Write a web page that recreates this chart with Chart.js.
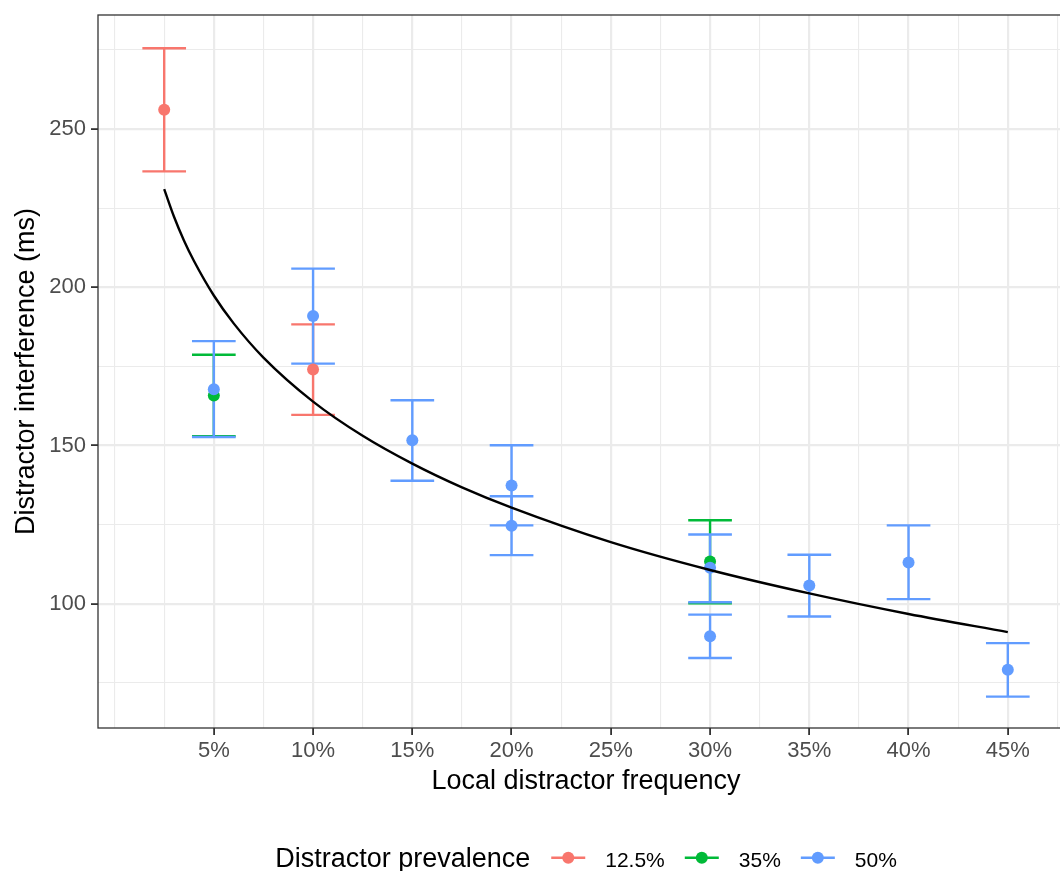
<!DOCTYPE html>
<html>
<head>
<meta charset="utf-8">
<title>Distractor interference</title>
<script src="https://cdn.jsdelivr.net/npm/chart.js@4/dist/chart.umd.min.js"></script>
<style>
  html, body { margin: 0; padding: 0; background: #fff; overflow: hidden; }
  #chart { display: block; }
</style>
</head>
<body>
<canvas id="chart" width="1088" height="871"></canvas>
<script>
// Group means with error bars, by distractor prevalence
const xRed = [2.5, 10];
const meanRed = [256.1, 174.0];
const lowRed = [236.6, 159.7];
const highRed = [275.5, 188.3];

const xGreen = [5, 30];
const meanGreen = [165.8, 113.4];
const lowGreen = [153.0, 100.2];
const highGreen = [178.7, 126.4];

const xBlue = [5, 10, 15, 20, 20, 30, 30, 35, 40, 45];
const meanBlue = [167.8, 190.9, 151.7, 137.4, 124.7, 111.4, 89.8, 105.8, 113.1, 79.2];
const lowBlue = [152.7, 175.9, 138.9, 124.8, 115.4, 100.5, 82.9, 96.0, 101.5, 70.7];
const highBlue = [183.0, 205.9, 164.3, 150.1, 134.0, 121.9, 96.6, 115.5, 124.8, 87.6];

// Fitted curve
const fitX = [2.5, 3, 3.5, 4, 5, 6, 7.5, 10, 12.5, 15, 17.5, 20, 25, 30, 35, 40, 45];
const fitY = [231, 222.2, 214.7, 208.3, 197.4, 188.6, 177.8, 163.9, 153.1, 144.3, 136.8, 130.4, 119.5, 110.7, 103.3, 96.8, 91.1];

// Axis breaks
const xMajor = [5, 10, 15, 20, 25, 30, 35, 40, 45];
const xMinor = [0, 2.5, 7.5, 12.5, 17.5, 22.5, 27.5, 32.5, 37.5, 42.5, 47.5];
const yMajor = [100, 150, 200, 250];
const yMinor = [75, 125, 175, 225, 275];

const legendLabels = ['12.5%', '35%', '50%'];

const RED = '#F8766D', GREEN = '#00BA38', BLUE = '#619CFF';
const FONT = '"Liberation Sans", Arial, Helvetica, sans-serif';
const CAP_HALF = 1.1; // half cap width, x units
const POINT_R = 6;

const pts = (xs, ys) => xs.map((x, i) => ({ x, y: ys[i] }));

const errorSets = [
  { x: xRed, low: lowRed, high: highRed, color: RED },
  { x: xGreen, low: lowGreen, high: highGreen, color: GREEN },
  { x: xBlue, low: lowBlue, high: highBlue, color: BLUE }
];

const isMajor = (list, v) => list.some(m => Math.abs(m - v) < 1e-6);

const errorBars = {
  id: 'errorBars',
  beforeDatasetsDraw(chart) {
    const { ctx, scales: { x, y } } = chart;
    ctx.save();
    ctx.lineWidth = 2.4;
    errorSets.forEach(set => {
      ctx.strokeStyle = set.color;
      set.x.forEach((xv, i) => {
        const px = x.getPixelForValue(xv);
        const x0 = x.getPixelForValue(xv - CAP_HALF);
        const x1 = x.getPixelForValue(xv + CAP_HALF);
        const yl = y.getPixelForValue(set.low[i]);
        const yh = y.getPixelForValue(set.high[i]);
        ctx.beginPath();
        ctx.moveTo(px, yl); ctx.lineTo(px, yh);
        ctx.moveTo(x0, yl); ctx.lineTo(x1, yl);
        ctx.moveTo(x0, yh); ctx.lineTo(x1, yh);
        ctx.stroke();
      });
    });
    ctx.restore();
  }
};

const frame = {
  id: 'frame',
  beforeDraw(chart) {
    const { ctx, width, height } = chart;
    ctx.save();
    ctx.fillStyle = '#fff';
    ctx.fillRect(0, 0, width, height);
    ctx.restore();
  },
  afterDraw(chart) {
    const { ctx, chartArea: a } = chart;
    ctx.save();
    ctx.strokeStyle = '#333333';
    ctx.lineWidth = 1.3;
    ctx.strokeRect(a.left, a.top, a.right - a.left, a.bottom - a.top);

    // legend row under the plot
    const colors = [RED, GREEN, BLUE];
    ctx.textBaseline = 'alphabetic';
    ctx.font = '27px ' + FONT;
    const title = 'Distractor prevalence';
    const titleW = ctx.measureText(title).width;
    ctx.font = '21px ' + FONT;
    const labelW = legendLabels.map(t => ctx.measureText(t).width);
    const total = titleW + 21 + labelW.reduce((s, w) => s + 34 + 20 + w, 0) + 20 * (legendLabels.length - 1);
    let lx = (a.left + a.right) / 2 - total / 2;
    const base = 866.5, mid = 857.7;
    ctx.fillStyle = '#000';
    ctx.font = '27px ' + FONT;
    ctx.fillText(title, lx, base);
    lx += titleW + 21;
    ctx.font = '21px ' + FONT;
    legendLabels.forEach((t, i) => {
      ctx.strokeStyle = colors[i];
      ctx.fillStyle = colors[i];
      ctx.lineWidth = 2.4;
      ctx.beginPath();
      ctx.moveTo(lx, mid); ctx.lineTo(lx + 34, mid);
      ctx.stroke();
      ctx.beginPath();
      ctx.arc(lx + 17, mid, POINT_R, 0, Math.PI * 2);
      ctx.fill();
      lx += 34 + 20;
      ctx.fillStyle = '#000';
      ctx.fillText(t, lx, base);
      lx += labelW[i] + 20;
    });
    ctx.restore();
  }
};

const gridStyle = list => ({
  color: '#EBEBEB',
  lineWidth: c => (c.tick && isMajor(list, c.tick.value)) ? 2.2 : 1.1,
  tickColor: c => (c.tick && isMajor(list, c.tick.value)) ? '#333333' : 'rgba(0,0,0,0)',
  tickWidth: 1.8,
  tickLength: 7,
  drawTicks: true
});

new Chart(document.getElementById('chart'), {
  type: 'scatter',
  data: {
    datasets: [
      {
        label: 'fit',
        data: pts(fitX, fitY),
        showLine: true,
        borderColor: '#000',
        borderWidth: 2.4,
        pointRadius: 0,
        cubicInterpolationMode: 'monotone',
        order: 0
      },
      { label: '50%', data: pts(xBlue, meanBlue), backgroundColor: BLUE, borderWidth: 0, pointRadius: POINT_R, order: 1 },
      { label: '35%', data: pts(xGreen, meanGreen), backgroundColor: GREEN, borderWidth: 0, pointRadius: POINT_R, order: 2 },
      { label: '12.5%', data: pts(xRed, meanRed), backgroundColor: RED, borderWidth: 0, pointRadius: POINT_R, order: 3 }
    ]
  },
  options: {
    responsive: false,
    devicePixelRatio: 1,
    animation: false,
    events: [],
    layout: { padding: { top: 15, right: 14, left: 0, bottom: 73 } },
    plugins: { legend: { display: false }, tooltip: { enabled: false } },
    scales: {
      x: {
        type: 'linear',
        min: -0.835,
        max: 48.335,
        afterBuildTicks: s => { s.ticks = xMinor.concat(xMajor).sort((a, b) => a - b).map(v => ({ value: v })); },
        afterFit: s => { s.height = 70; s.paddingLeft = 0; s.paddingRight = 0; },
        grid: gridStyle(xMajor),
        border: { display: false },
        ticks: {
          autoSkip: false,
          maxRotation: 0,
          padding: 3,
          color: '#4D4D4D',
          font: { family: FONT, size: 22 },
          callback: v => isMajor(xMajor, v) ? v + '%' : ''
        },
        title: {
          display: true,
          text: 'Local distractor frequency',
          color: '#000',
          font: { family: FONT, size: 27 },
          padding: { top: 0, bottom: 0 }
        }
      },
      y: {
        type: 'linear',
        min: 60.8,
        max: 286.0,
        afterBuildTicks: s => { s.ticks = yMinor.concat(yMajor).sort((a, b) => a - b).map(v => ({ value: v })); },
        afterFit: s => { s.width = 98; s.paddingTop = 0; s.paddingBottom = 0; },
        grid: gridStyle(yMajor),
        border: { display: false },
        ticks: {
          autoSkip: false,
          padding: 5,
          color: '#4D4D4D',
          font: { family: FONT, size: 22 },
          callback: v => isMajor(yMajor, v) ? String(v) : ''
        },
        title: {
          display: true,
          text: 'Distractor interference (ms)',
          color: '#000',
          font: { family: FONT, size: 27 },
          padding: { top: 10, bottom: 0 }
        }
      }
    }
  },
  plugins: [frame, errorBars]
});
</script>
</body>
</html>
